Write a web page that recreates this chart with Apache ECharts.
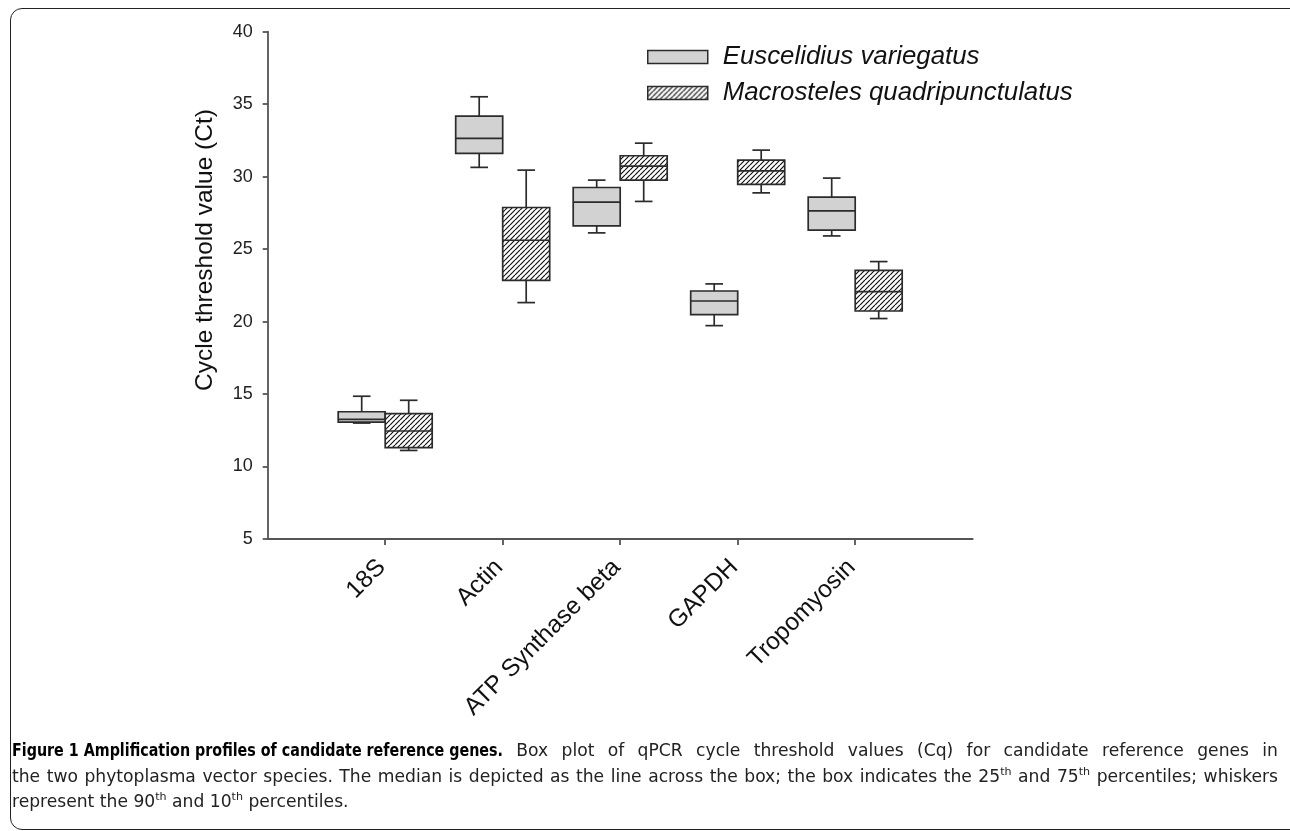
<!DOCTYPE html>
<html><head><meta charset="utf-8">
<script src="https://cdn.jsdelivr.net/npm/echarts@6/dist/echarts.min.js"></script>
<style>
html,body{margin:0;padding:0;background:#fff;width:1290px;height:831px;overflow:hidden;}
#chart{position:absolute;left:0;top:0;width:1290px;height:831px;}
#frame{position:absolute;left:10px;top:8px;width:1400px;height:822px;border:1.5px solid #222;border-radius:12px;box-sizing:border-box;pointer-events:none;}
#caption{position:absolute;left:12px;top:738px;font-family:"DejaVu Sans Condensed","Liberation Sans Narrow","Liberation Sans",sans-serif;font-size:17px;color:#222;line-height:25.5px;transform-origin:0 0;width:3000px;}
.ln{display:block;height:25.5px;white-space:nowrap;}
.j{text-align:justify;text-align-last:justify;white-space:normal;}
#bwrap{display:inline-block;white-space:nowrap;vertical-align:top;}
#bold{display:inline-block;transform-origin:0 0;color:#000;white-space:nowrap;}
sup{font-size:11px;line-height:0;vertical-align:7px;}
</style></head>
<body>
<div id="chart"></div>
<div id="frame"></div>
<div id="caption">
<div class="ln" id="l1"><span class="m" id="m1"><span id="bwrap"><b id="bold">Figure 1 Amplification profiles of candidate reference genes.</b></span> Box plot of qPCR cycle threshold values (Cq) for candidate reference genes in</span></div>
<div class="ln" id="l2"><span class="m" id="m2">the two phytoplasma vector species. The median is depicted as the line across the box; the box indicates the 25<sup>th</sup> and 75<sup>th</sup> percentiles; whiskers</span></div>
<div class="ln" id="l3"><span class="m" id="m3">represent the 90<sup>th</sup> and 10<sup>th</sup> percentiles.</span></div>
</div>
<script>
// ---- data ----
const categories = ['18S', 'Actin', 'ATP Synthase beta', 'GAPDH', 'Tropomyosin'];
const seriesNames = ['Euscelidius variegatus', 'Macrosteles quadripunctulatus'];
// each: [10th, 25th, median, 75th, 90th]
const euscelidius = [
  [13.00, 13.07, 13.25, 13.78, 14.85],
  [30.64, 31.60, 32.64, 34.18, 35.51],
  [26.12, 26.60, 28.24, 29.25, 29.76],
  [19.72, 20.48, 21.42, 22.11, 22.60],
  [25.91, 26.31, 27.64, 28.58, 29.90]
];
const macrosteles = [
  [11.11, 11.30, 12.45, 13.65, 14.57],
  [21.31, 22.85, 25.61, 27.87, 30.45],
  [28.29, 29.76, 30.73, 31.44, 32.31],
  [28.88, 29.46, 30.40, 31.14, 31.83],
  [20.21, 20.73, 22.07, 23.54, 24.14]
];
const yMin = 5, yMax = 40, yInterval = 5;
const yTitle = 'Cycle threshold value (Ct)';

// ---- hatch pattern ----
const cv = document.createElement('canvas');
cv.width = 5; cv.height = 5;
const ctx = cv.getContext('2d');
ctx.fillStyle = '#ffffff'; ctx.fillRect(0, 0, 5, 5);
ctx.strokeStyle = '#111'; ctx.lineWidth = 1.2;
ctx.beginPath();
for (let k = -1; k <= 1; k++) { ctx.moveTo(k * 5, 5); ctx.lineTo(k * 5 + 5, 0); }
ctx.stroke();
const hatch = { image: cv, repeat: 'repeat' };
const greyFill = '#d2d2d2';
const strokeCol = '#2b2b2b';

const axisCats = [''].concat(categories, ['']);

function toData(arr) {
  return arr.map((v, i) => [i + 1].concat(v));
}

function makeRender(side, fill) {
  return function (params, api) {
    const xi = api.value(0);
    const band = api.size([1, 0])[0];
    const boxW = band * 0.4, capW = band * 0.15;
    const cx = api.coord([xi, api.value(3)])[0] + side * boxW / 2;
    const yLo = api.coord([xi, api.value(1)])[1];
    const yQ1 = api.coord([xi, api.value(2)])[1];
    const yMd = api.coord([xi, api.value(3)])[1];
    const yQ3 = api.coord([xi, api.value(4)])[1];
    const yHi = api.coord([xi, api.value(5)])[1];
    const ls = { stroke: strokeCol, lineWidth: 1.7 };
    return {
      type: 'group',
      children: [
        { type: 'line', shape: { x1: cx, y1: yHi, x2: cx, y2: yQ3 }, style: ls },
        { type: 'line', shape: { x1: cx, y1: yQ1, x2: cx, y2: yLo }, style: ls },
        { type: 'line', shape: { x1: cx - capW / 2, y1: yHi, x2: cx + capW / 2, y2: yHi }, style: ls },
        { type: 'line', shape: { x1: cx - capW / 2, y1: yLo, x2: cx + capW / 2, y2: yLo }, style: ls },
        { type: 'rect', shape: { x: cx - boxW / 2, y: yQ3, width: boxW, height: yQ1 - yQ3 },
          style: { fill: fill, stroke: strokeCol, lineWidth: 1.7 } },
        { type: 'line', shape: { x1: cx - boxW / 2, y1: yMd, x2: cx + boxW / 2, y2: yMd }, style: ls }
      ]
    };
  };
}

const chart = echarts.init(document.getElementById('chart'), null, { renderer: 'canvas' });
const font = '"Liberation Sans", Arial, sans-serif';
chart.setOption({
  animation: false,
  backgroundColor: 'transparent',
  grid: { left: 267.7, top: 31.7, right: 317.3, bottom: 292, containLabel: false },
  legend: {
    orient: 'vertical', left: 642, top: 39,
    icon: 'rect', itemWidth: 60, itemHeight: 13, itemGap: 10,
    data: seriesNames,
    itemStyle: { borderColor: strokeCol, borderWidth: 1.5 },
    textStyle: { fontSize: 25.8, fontStyle: 'italic', color: '#111', fontFamily: font, padding: [0, 0, 0, 10] }
  },
  xAxis: {
    type: 'category', data: axisCats, boundaryGap: false,
    axisLine: { lineStyle: { color: '#555', width: 1.8 } },
    axisTick: { length: 6, interval: function (i) { return i > 0 && i < axisCats.length - 1; },
      lineStyle: { color: '#555', width: 1.8 } },
    axisLabel: { interval: 0, rotate: 45, fontSize: 24.5, color: '#111', fontFamily: font, margin: 21, padding: [0, 5, 0, 0] },
    splitLine: { show: false }
  },
  yAxis: {
    type: 'value', min: yMin, max: yMax, interval: yInterval,
    axisLine: { show: true, lineStyle: { color: '#555', width: 1.8 } },
    axisTick: { show: true, length: 5, lineStyle: { color: '#555', width: 1.8 } },
    axisLabel: { fontSize: 18, color: '#222', fontFamily: font, margin: 15 },
    splitLine: { show: false }
  },
  graphic: [{
    type: 'text', x: 205, y: 250, rotation: Math.PI / 2,
    style: { text: yTitle, fontSize: 24.5, fontFamily: font, fill: '#111', align: 'center', verticalAlign: 'middle' }
  }],
  series: [
    { type: 'custom', name: seriesNames[0], data: toData(euscelidius),
      encode: { x: 0, y: [1, 2, 3, 4, 5] },
      itemStyle: { color: greyFill, borderColor: strokeCol, borderWidth: 1.5 },
      renderItem: makeRender(-1, greyFill) },
    { type: 'custom', name: seriesNames[1], data: toData(macrosteles),
      encode: { x: 0, y: [1, 2, 3, 4, 5] },
      itemStyle: { color: hatch, borderColor: strokeCol, borderWidth: 1.5 },
      renderItem: makeRender(1, hatch) }
  ]
});

// ---- caption layout: uniform horizontal condensing + justified lines ----
(function () {
  const cap = document.getElementById('caption');
  const w = id => document.getElementById(id).getBoundingClientRect().width;
  const fullW = 1266, line3W = 346, boldW = 491;
  const w1 = w('m1'), w2 = w('m2'), w3 = w('m3');
  let s = line3W / w3;
  s = Math.min(s, fullW / (w1 + 4), fullW / (w2 + 4));
  const bold = document.getElementById('bold');
  const bw = bold.getBoundingClientRect().width;
  const tgt = boldW / s;
  const bs = Math.min(1, tgt / bw);
  document.getElementById('bwrap').style.width = (bw * bs) + 'px';
  bold.style.transform = 'scaleX(' + bs + ')';
  cap.style.width = (fullW / s) + 'px';
  cap.style.transform = 'scaleX(' + s + ')';
  document.getElementById('l1').classList.add('j');
  document.getElementById('l2').classList.add('j');
})();
</script>
</body></html>
